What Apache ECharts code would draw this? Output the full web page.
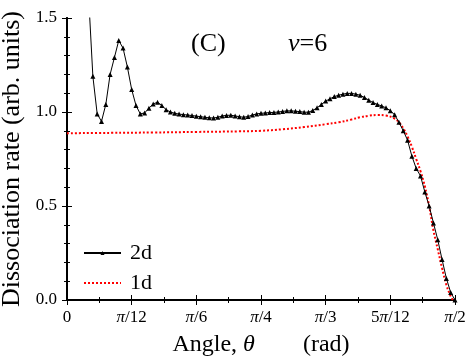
<!DOCTYPE html>
<html>
<head>
<meta charset="utf-8">
<script src="https://cdn.jsdelivr.net/npm/echarts@6/dist/echarts.min.js"></script>
<style>
  html, body { margin: 0; padding: 0; background: #fff; }
  #chart { width: 471px; height: 362px; }
</style>
</head>
<body>
<div id="chart"></div>
<script>
// angle in degrees (0..90 = 0..pi/2)
const angle2d = [5, 6, 7, 8, 9, 10, 11, 12, 13, 14, 15, 16, 17, 18, 19, 20, 21, 22, 23, 24, 25, 26, 27, 28, 29, 30,
  31, 32, 33, 34, 35, 36, 37, 38, 39, 40, 41, 42, 43, 44, 45, 46, 47, 48, 49, 50, 51, 52, 53, 54, 55, 56, 57, 58, 59, 60,
  61, 62, 63, 64, 65, 66, 67, 68, 69, 70, 71, 72, 73, 74, 75, 76, 77, 78, 79, 80, 81, 82, 83, 84, 85, 86, 87, 88, 89, 90]
const rate2d = [1.62, 1.19, 0.99, 0.95, 1.04, 1.20, 1.29, 1.38, 1.34, 1.24, 1.12, 1.035, 0.99, 0.995, 1.02, 1.043, 1.052, 1.035, 1.012, 1.000,
  0.993, 0.989, 0.986, 0.984, 0.981, 0.978, 0.975, 0.972, 0.969, 0.968, 0.972, 0.979, 0.982, 0.983, 0.979, 0.975, 0.972, 0.976, 0.984, 0.990,
  0.993, 0.995, 0.997, 0.998, 1.000, 1.003, 1.006, 1.006, 1.004, 1.002, 0.999, 0.999, 1.008, 1.022, 1.040, 1.058, 1.070, 1.082, 1.089, 1.095,
  1.099, 1.099, 1.095, 1.089, 1.077, 1.063, 1.050, 1.040, 1.032, 1.022, 1.007, 0.985, 0.945, 0.90, 0.85, 0.765, 0.70, 0.66, 0.575, 0.50,
  0.41, 0.32, 0.215, 0.115, 0.04, 0.0]
const angle1d = [0, 10, 20, 30, 40, 45, 50, 55, 60, 63, 66, 68, 70, 72, 74, 76, 77, 78, 79, 80, 81, 82, 83, 84, 85, 86, 87, 88, 89, 89.5]
const rate1d = [0.887, 0.889, 0.891, 0.894, 0.897, 0.900, 0.908, 0.920, 0.935, 0.945, 0.960, 0.972, 0.980, 0.984, 0.981, 0.965, 0.945, 0.913, 0.87, 0.815,
  0.75, 0.685, 0.605, 0.50, 0.37, 0.27, 0.17, 0.08, 0.02, 0.0]
const tickLabels = { 0: '0', 15: '{i|π}/12', 30: '{i|π}/6', 45: '{i|π}/4', 60: '{i|π}/3', 75: '5{i|π}/12', 90: '{i|π}/2' }

const font = 'Liberation Serif'
const zip = (xs, ys) => xs.map((x, i) => [x, ys[i]])

// shared tick settings, ticks pointing inward
const tickStyle = {
  axisLine: { show: true, lineStyle: { color: '#000', width: 2 } },
  axisTick: { show: true, inside: true, length: 5, lineStyle: { color: '#000', width: 1 } },
  minorTick: { show: true, length: 3, lineStyle: { color: '#000', width: 1 } },
  splitLine: { show: false }
}

const mychart = echarts.init(document.getElementById('chart'))
mychart.setOption({
  animation: false,
  grid: { left: 67, right: 16, top: 18, bottom: 62, containLabel: false, outerBoundsMode: 'none' },
  legend: {
    orient: 'vertical',
    left: 83,
    top: 242,
    padding: 0,
    itemWidth: 37,
    itemHeight: 5,
    itemGap: 8,
    textStyle: { fontFamily: font, fontSize: 22, color: '#000', padding: [0, 0, 0, 4] },
    data: ['2d', { name: '1d', itemStyle: { opacity: 0 } }]
  },
  xAxis: [
    {
      type: 'value',
      min: 0,
      max: 90,
      interval: 15,
      minorTick: { ...tickStyle.minorTick, splitNumber: 2 },
      axisLine: tickStyle.axisLine,
      axisTick: tickStyle.axisTick,
      splitLine: tickStyle.splitLine,
      axisLabel: {
        margin: 9,
        fontFamily: font,
        fontSize: 17,
        color: '#000',
        formatter: (v) => tickLabels[v] || '',
        rich: { i: { fontFamily: font, fontSize: 17, fontStyle: 'italic', color: '#000' } }
      },
      name: 'Angle, {i|θ}        (rad)',
      nameLocation: 'middle',
      nameGap: 33,
      nameTextStyle: {
        fontFamily: font,
        fontSize: 24,
        color: '#000',
        rich: { i: { fontFamily: font, fontSize: 24, fontStyle: 'italic', color: '#000' } }
      }
    },
    {
      // mirrored top axis
      type: 'value',
      position: 'top',
      min: 0,
      max: 90,
      interval: 15,
      minorTick: { ...tickStyle.minorTick, splitNumber: 2 },
      axisLine: tickStyle.axisLine,
      axisTick: tickStyle.axisTick,
      splitLine: tickStyle.splitLine,
      axisLabel: { show: false }
    }
  ],
  yAxis: [
    {
      type: 'value',
      min: 0,
      max: 1.5,
      interval: 0.5,
      minorTick: { ...tickStyle.minorTick, splitNumber: 5 },
      axisLine: tickStyle.axisLine,
      axisTick: tickStyle.axisTick,
      splitLine: tickStyle.splitLine,
      axisLabel: {
        margin: 10,
        fontFamily: font,
        fontSize: 17,
        color: '#000',
        formatter: (v) => v.toFixed(1)
      },
      name: 'Dissociation rate (arb. units)',
      nameLocation: 'middle',
      nameGap: 40,
      nameTextStyle: { fontFamily: font, fontSize: 26, color: '#000' }
    },
    {
      // mirrored right axis
      type: 'value',
      position: 'right',
      min: 0,
      max: 1.5,
      interval: 0.5,
      minorTick: { ...tickStyle.minorTick, splitNumber: 5 },
      axisLine: tickStyle.axisLine,
      axisTick: tickStyle.axisTick,
      splitLine: tickStyle.splitLine,
      axisLabel: { show: false }
    }
  ],
  // panel tag and vibrational level
  graphic: [
    {
      type: 'text',
      left: 191,
      top: 31,
      style: { text: '(C)', font: '26px "Liberation Serif"', fill: '#000' }
    },
    {
      type: 'text',
      left: 288,
      top: 31,
      style: {
        text: '{i|ν}=6',
        font: '26px "Liberation Serif"',
        fill: '#000',
        rich: { i: { fontFamily: font, fontSize: 26, fontStyle: 'italic', fill: '#000' } }
      }
    }
  ],
  series: [
    {
      name: '2d',
      type: 'line',
      data: zip(angle2d, rate2d),
      symbol: 'triangle',
      symbolSize: 5,
      clip: true,
      itemStyle: { color: '#000' },
      lineStyle: { color: '#000', width: 1 }
    },
    {
      name: '1d',
      type: 'line',
      data: zip(angle1d, rate1d),
      smooth: 0.4,
      showSymbol: false,
      symbol: 'none',
      clip: true,
      itemStyle: { color: '#ff0000' },
      lineStyle: { color: '#ff0000', width: 2, type: 'dotted' },
      z: 1
    }
  ]
})
</script>
</body>
</html>
